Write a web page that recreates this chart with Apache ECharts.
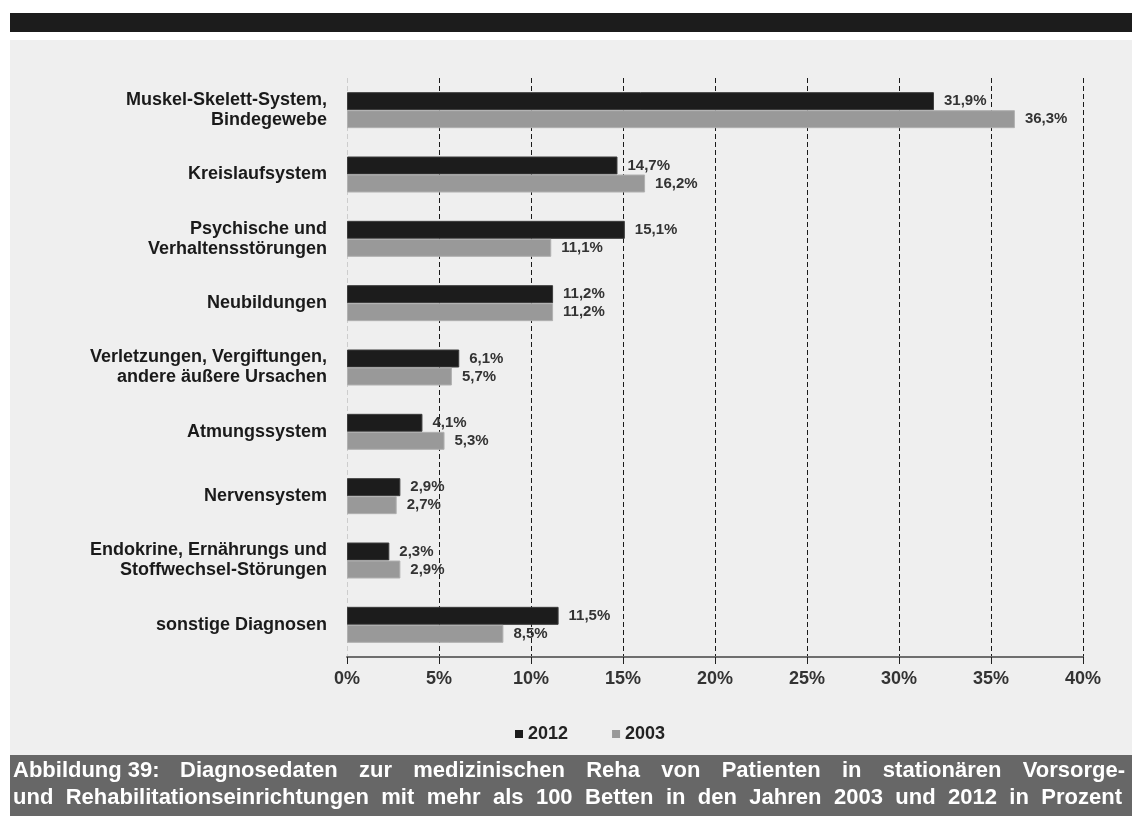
<!DOCTYPE html>
<html>
<head>
<meta charset="utf-8">
<script src="https://cdn.jsdelivr.net/npm/echarts@6/dist/echarts.min.js"></script>
<style>
  html, body { margin: 0; padding: 0; background: #ffffff; }
  #chart { width: 1132px; height: 819px; }
</style>
</head>
<body>
<div id="chart"></div>
<script>
// Diagnoses in inpatient prevention/rehab facilities (>100 beds), share in percent
const categories = [
  'Muskel-Skelett-System,\nBindegewebe',
  'Kreislaufsystem',
  'Psychische und\nVerhaltensstörungen',
  'Neubildungen',
  'Verletzungen, Vergiftungen,\nandere äußere Ursachen',
  'Atmungssystem',
  'Nervensystem',
  'Endokrine, Ernährungs und\nStoffwechsel-Störungen',
  'sonstige Diagnosen'
];
const values2012 = [31.9, 14.7, 15.1, 11.2, 6.1, 4.1, 2.9, 2.3, 11.5];
const values2003 = [36.3, 16.2, 11.1, 11.2, 5.7, 5.3, 2.7, 2.9, 8.5];
const seriesNames = ['2012', '2003'];
const captionLine1Head = 'Abbildung 39:';
const captionLine1 = 'Diagnosedaten zur medizinischen Reha von Patienten in stationären Vorsorge-';
const captionLine2 = 'und Rehabilitationseinrichtungen mit mehr als 100 Betten in den Jahren 2003 und 2012 in Prozent';

const FONT = '"Liberation Sans", Arial, sans-serif';
const CAPTION_SIZE = 22;
const CAPTION_FONT = 'bold ' + CAPTION_SIZE + 'px ' + FONT;

// Lay out one caption line as justified words between two x positions
const measureCtx = document.createElement('canvas').getContext('2d');
measureCtx.font = CAPTION_FONT;
function justified(text, x0, x1, y) {
  const words = text.split(' ');
  const widths = words.map(w => measureCtx.measureText(w).width);
  const total = widths.reduce((a, b) => a + b, 0);
  const gap = words.length > 1 ? (x1 - x0 - total) / (words.length - 1) : 0;
  let x = x0;
  return words.map((w, i) => {
    const el = {
      type: 'text', x: x, y: y,
      style: { text: w, fill: '#ffffff', font: CAPTION_FONT, textVerticalAlign: 'middle' }
    };
    x += widths[i] + gap;
    return el;
  });
}

const fmt = v => String(v.value !== undefined ? v.value : v).replace('.', ',') + '%';

const chart = echarts.init(document.getElementById('chart'));
chart.setOption({
  backgroundColor: '#ffffff',
  animation: false,
  textStyle: { fontFamily: FONT },
  graphic: [
    { type: 'rect', z: -10, shape: { x: 10, y: 13, width: 1122, height: 19 }, style: { fill: '#1c1c1c' } },
    { type: 'rect', z: -10, shape: { x: 10, y: 40, width: 1122, height: 715 }, style: { fill: '#efefef' } },
    { type: 'rect', z: -10, shape: { x: 10, y: 755, width: 1122, height: 61 }, style: { fill: '#676767' } },
    {
      type: 'text', x: 13, y: 771,
      style: { text: captionLine1Head, fill: '#ffffff', font: CAPTION_FONT, textVerticalAlign: 'middle' }
    },
    ...justified(captionLine1, 180, 1125, 771),
    ...justified(captionLine2, 13, 1122, 798)
  ],
  legend: {
    data: seriesNames,
    left: 510,
    top: 720,
    icon: 'rect',
    itemWidth: 8,
    itemHeight: 8,
    itemGap: 44,
    itemStyle: { borderWidth: 0 },
    textStyle: { fontWeight: 'bold', fontSize: 18, color: '#222', fontFamily: FONT }
  },
  grid: { left: 347, right: 49, top: 78, bottom: 162, containLabel: false },
  xAxis: {
    type: 'value',
    min: 0,
    max: 40,
    interval: 5,
    axisLine: { show: true, lineStyle: { color: '#6e6e6e', width: 2 } },
    axisTick: { show: true, length: 7, lineStyle: { color: '#222', width: 1 } },
    axisLabel: {
      formatter: '{value}%', margin: 13,
      fontWeight: 'bold', fontSize: 18, color: '#333', fontFamily: FONT
    },
    splitLine: {
      show: true,
      lineStyle: {
        color: ['#cdcdcd', '#1a1a1a', '#1a1a1a', '#1a1a1a', '#1a1a1a', '#1a1a1a', '#1a1a1a', '#1a1a1a', '#1a1a1a'],
        type: [5, 3],
        width: 1
      }
    }
  },
  yAxis: {
    type: 'category',
    inverse: true,
    data: categories,
    axisLine: { show: false },
    axisTick: { show: false },
    axisLabel: {
      margin: 20, fontWeight: 'bold', fontSize: 18, color: '#1a1a1a',
      lineHeight: 20, align: 'right', fontFamily: FONT
    }
  },
  series: [
    {
      name: seriesNames[0], type: 'bar', data: values2012,
      barWidth: 18, barGap: '0%',
      itemStyle: { color: '#1c1c1c', borderColor: '#3c3c3c', borderWidth: 1 },
      label: { show: true, position: 'right', distance: 10, formatter: fmt, fontWeight: 'bold', fontSize: 15, color: '#333', fontFamily: FONT }
    },
    {
      name: seriesNames[1], type: 'bar', data: values2003,
      barWidth: 18, barGap: '0%',
      itemStyle: { color: '#999999', borderColor: '#b0b0b0', borderWidth: 1 },
      label: { show: true, position: 'right', distance: 10, formatter: fmt, fontWeight: 'bold', fontSize: 15, color: '#333', fontFamily: FONT }
    }
  ]
});
</script>
</body>
</html>
